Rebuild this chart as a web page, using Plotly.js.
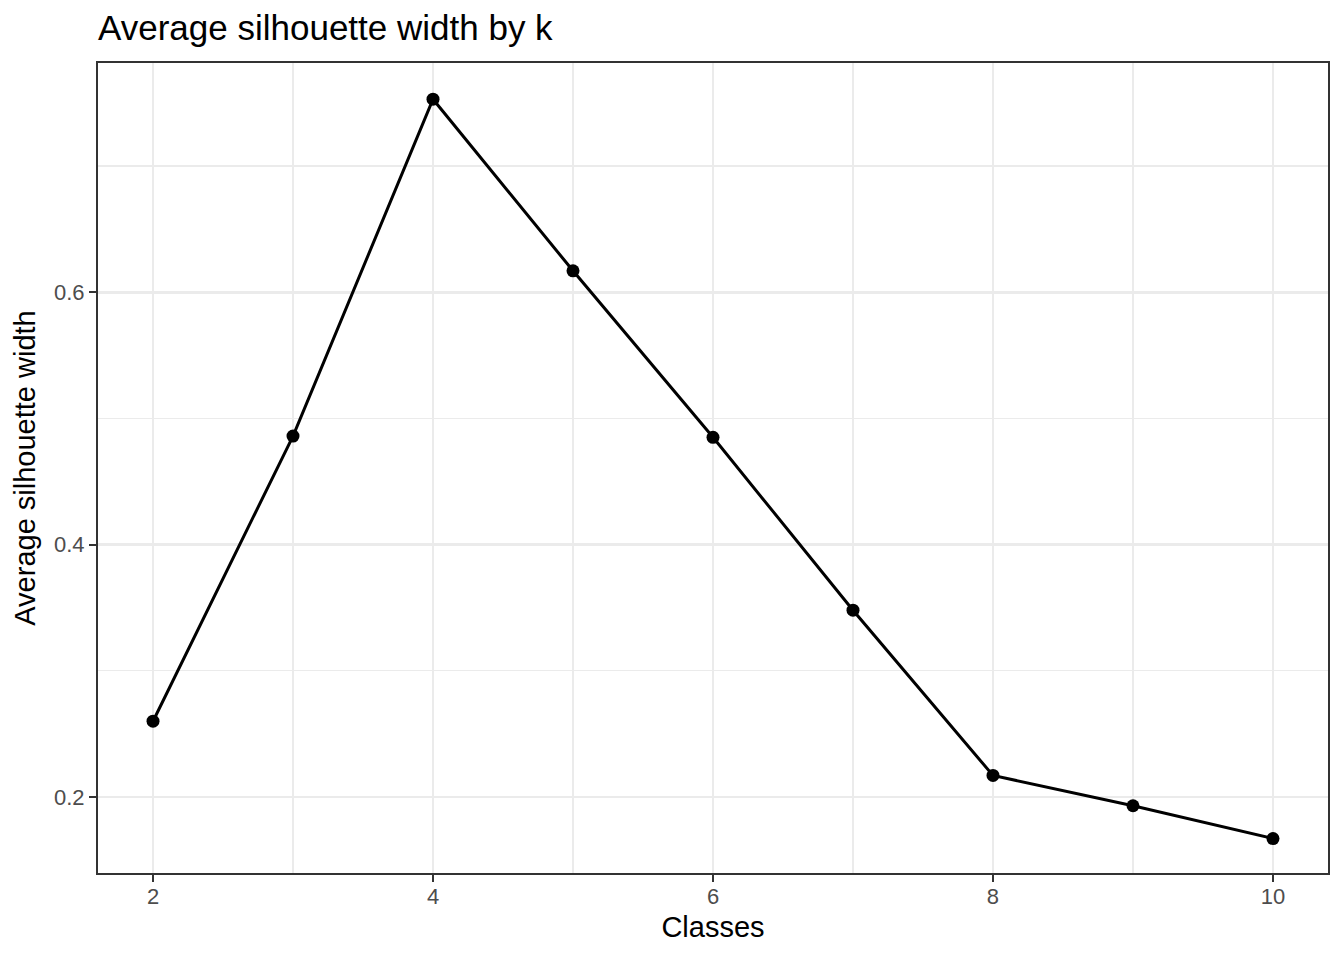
<!DOCTYPE html>
<html>
<head>
<meta charset="utf-8">
<script src="https://cdn.plot.ly/plotly-3.0.1.min.js"></script>
<style>html,body{margin:0;padding:0;background:#fff;}#chart{width:1344px;height:960px;}</style>
</head>
<body>
<div id="chart"></div>
<script>
var classes = [2, 3, 4, 5, 6, 7, 8, 9, 10];
var silhouette = [0.260, 0.486, 0.753, 0.617, 0.485, 0.348, 0.217, 0.193, 0.167];
var xTicks = [2, 4, 6, 8, 10];
var yTicks = [0.2, 0.4, 0.6];
var yTickLabels = ['0.2', '0.4', '0.6'];

var font = 'Liberation Sans, Arial, Helvetica, sans-serif';
var trace = {
  x: classes,
  y: silhouette,
  type: 'scatter',
  mode: 'lines+markers',
  line: {color: '#000000', width: 3},
  marker: {color: '#000000', size: 13},
  hoverinfo: 'x+y'
};

var axisCommon = {
  showline: true,
  mirror: true,
  linecolor: '#333333',
  linewidth: 2,
  ticks: 'outside',
  ticklen: 7,
  tickwidth: 2,
  tickcolor: '#333333',
  showgrid: true,
  gridcolor: '#EBEBEB',
  gridwidth: 2.6,
  zeroline: false,
  tickfont: {family: font, size: 22, color: '#4D4D4D'}
};

var layout = {
  width: 1344,
  height: 960,
  paper_bgcolor: '#ffffff',
  plot_bgcolor: '#ffffff',
  margin: {l: 98, r: 16, t: 63, b: 87},
  showlegend: false,
  title: {
    text: 'Average silhouette width by k',
    font: {family: font, size: 35, color: '#000000'},
    xref: 'paper', x: 0, xanchor: 'left',
    yref: 'container', y: 1 - 28 / 960, yanchor: 'middle'
  },
  xaxis: Object.assign({}, axisCommon, {
    range: [1.607, 10.393],
    tickmode: 'array',
    tickvals: xTicks,
    ticktext: xTicks.map(String),
    ticklabelstandoff: -4,
    minor: {dtick: 1, tick0: 1, showgrid: true, gridcolor: '#EBEBEB', gridwidth: 1.4, ticks: ''},
    title: {text: 'Classes', font: {family: font, size: 29, color: '#000000'}, standoff: 8}
  }),
  yaxis: Object.assign({}, axisCommon, {
    range: [0.1397, 0.7817],
    tickmode: 'array',
    tickvals: yTicks,
    ticktext: yTickLabels,
    minor: {dtick: 0.1, tick0: 0.1, showgrid: true, gridcolor: '#EBEBEB', gridwidth: 1.4, ticks: ''},
    title: {text: 'Average silhouette width', font: {family: font, size: 29, color: '#000000'}, standoff: 10}
  })
};

Plotly.newPlot('chart', [trace], layout, {displayModeBar: false, staticPlot: true});
</script>
</body>
</html>
